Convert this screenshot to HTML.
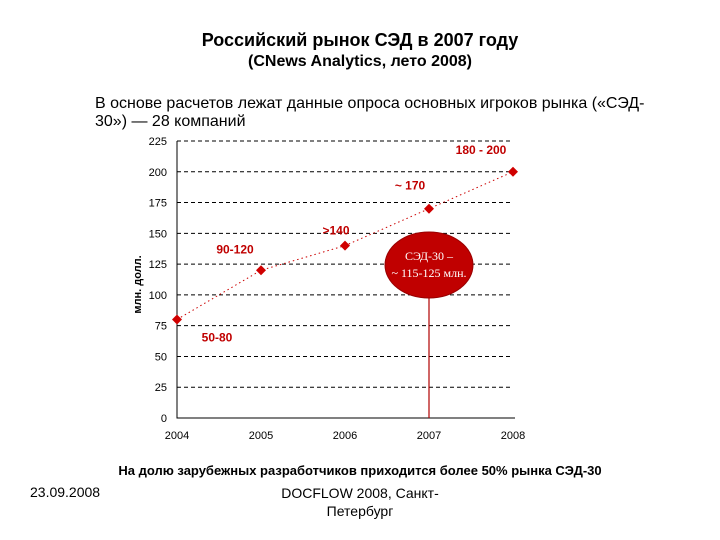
<!DOCTYPE html>
<html><head><meta charset="utf-8"><style>
body{margin:0;width:720px;height:540px;background:#fff;font-family:"Liberation Sans","Noto Sans CJK SC",sans-serif;position:relative;overflow:hidden}
.t{position:absolute;white-space:nowrap;color:#000}
</style></head><body>
<div class="t" style="left:0;width:720px;text-align:center;top:30px;font-size:18px;font-weight:bold">Российский рынок СЭД в 2007 году</div>
<div class="t" style="left:0;width:720px;text-align:center;top:53px;font-size:16px;font-weight:bold">(CNews Analytics, лето 2008)</div>
<div class="t" style="left:95px;top:95px;font-size:16px;line-height:18px">В основе расчетов лежат данные опроса основных игроков рынка («СЭД-<br>30») — 28 компаний</div>
<svg width="720" height="540" style="position:absolute;left:0;top:0">
<g id="grid"></g><g id="axes"></g><g id="marks"></g>
</svg>
<div class="t" style="left:0;width:720px;text-align:center;top:463px;font-size:13px;font-weight:bold">На долю зарубежных разработчиков приходится более 50% рынка СЭД-30</div>
<div class="t" style="left:30px;top:484px;font-size:14px">23.09.2008</div>
<div class="t" style="left:0;width:720px;text-align:center;top:484px;font-size:14px;line-height:18px">DOCFLOW 2008, Санкт-<br>Петербург</div>
<script>
const years=["2004","2005","2006","2007","2008"];
const values=[80,120,140,170,200];
const valueLabels=["50-80","90-120",">140","~ 170","180 - 200"];
const yTicks=[0,25,50,75,100,125,150,175,200,225];
const highlightYear="2007";
const highlightText=["СЭД-30 –","~ 115-125 млн."];
const ns="http://www.w3.org/2000/svg";
const x0=177,x1=513,y0=418,y1=141;
const xS=i=>x0+i*(x1-x0)/(years.length-1);
const yS=v=>y0-v*(y0-y1)/225;
function mk(tag,a,p){const e=document.createElementNS(ns,tag);for(const k in a)e.setAttribute(k,a[k]);p.appendChild(e);return e;}
const grid=document.getElementById('grid'),axes=document.getElementById('axes'),marks=document.getElementById('marks');
yTicks.forEach(v=>{
 if(v>0){const l=mk('line',{x1:x0,x2:x1,y1:yS(v),y2:yS(v),stroke:'#000','stroke-dasharray':'4,3','stroke-width':1},grid);
 }
 const t=mk('text',{x:167,y:yS(v)+4,'text-anchor':'end','font-size':11,'font-family':'Liberation Sans'},axes);t.textContent=v;
 
});
const ax=mk('path',{d:`M${x0},${y1}V${y0}H${x1+2}`,stroke:'#000',fill:'none'},axes);

years.forEach((y,i)=>{const t=mk('text',{x:xS(i),y:y0+21,'text-anchor':'middle','font-size':11,'font-family':'Liberation Sans'},axes);t.textContent=y;
 });
const yt=mk('text',{transform:`translate(141,${(y0+y1)/2+5}) rotate(-90)`,'text-anchor':'middle','font-size':11,'font-weight':'bold','font-family':'Liberation Sans'},axes);yt.textContent='млн. долл.';

const line=mk('polyline',{points:values.map((v,i)=>xS(i)+','+yS(v)).join(' '),fill:'none',stroke:'#c00','stroke-width':1,'stroke-dasharray':'1.5,3'},marks);

const lOff=[[40,22],[-26,-17],[-9,-11],[-19,-19],[-32,-18]];
values.forEach((v,i)=>{
 const cx=xS(i),cy=yS(v);
 const p=mk('path',{d:`M${cx},${cy-5}L${cx+5},${cy}L${cx},${cy+5}L${cx-5},${cy}Z`,fill:'#d00000'},marks);
 
 const t=mk('text',{x:cx+lOff[i][0],y:cy+lOff[i][1],'text-anchor':'middle','font-size':12,'font-weight':'bold',fill:'#c00000','font-family':'Liberation Sans'},marks);
 t.textContent=valueLabels[i];
});
const hi=years.indexOf(highlightYear),hx=xS(hi);
const vl=mk('line',{x1:hx,x2:hx,y1:yS(100),y2:y0,stroke:'#b00000','stroke-width':1.2},marks);

const el=mk('ellipse',{cx:hx,cy:265,rx:44,ry:33,fill:'#c00000',stroke:'#900'},marks);

highlightText.forEach((s,k)=>{const t=mk('text',{x:hx,y:260+k*17,'text-anchor':'middle','font-size':12,fill:'#fff','font-family':'Liberation Serif'},marks);t.textContent=s;
 });
</script>
</body></html>
